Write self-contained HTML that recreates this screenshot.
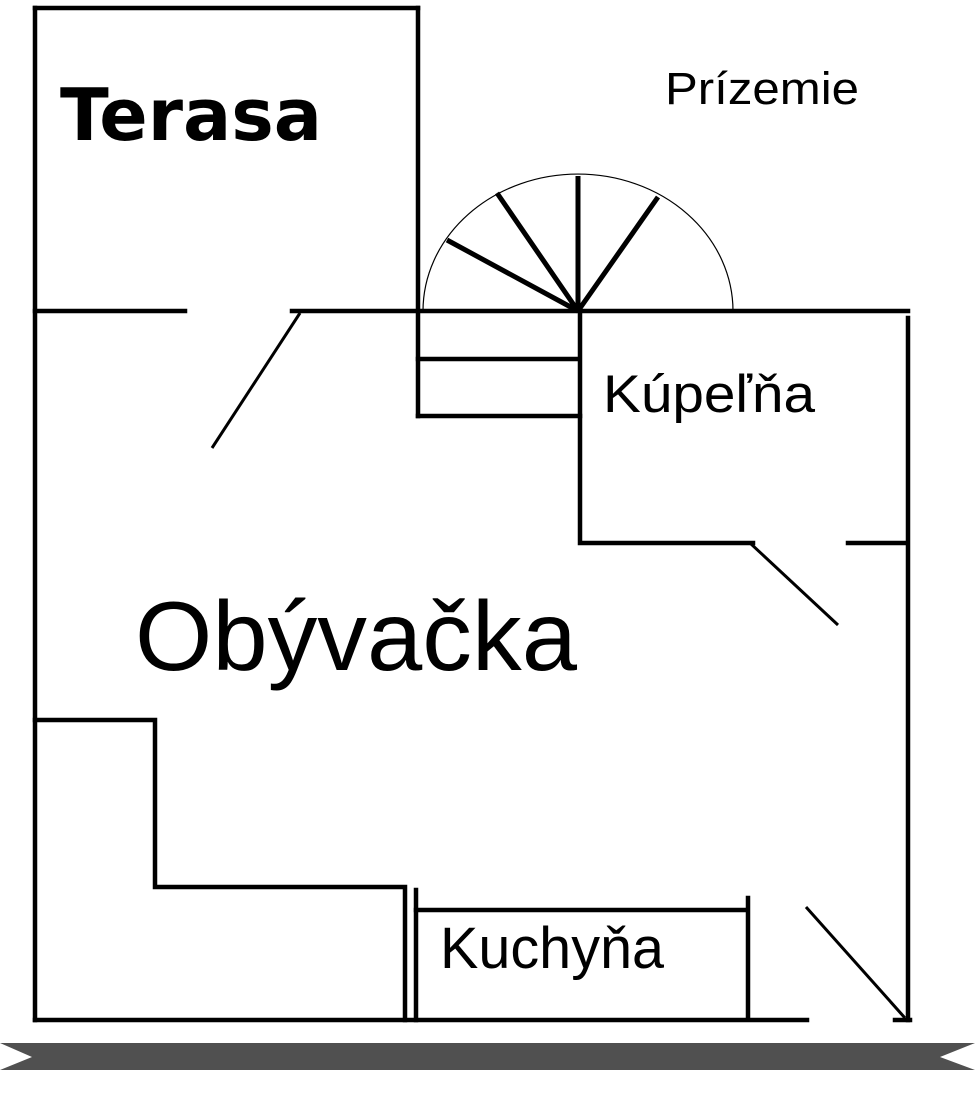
<!DOCTYPE html>
<html><head><meta charset="utf-8"><style>html,body{margin:0;padding:0;background:#fff}svg{display:block}</style></head>
<body>
<svg width="975" height="1112" viewBox="0 0 975 1112" xmlns="http://www.w3.org/2000/svg">
<g stroke="#000" stroke-width="4.5" fill="none" stroke-linecap="square">
<path d="M35 8 V1020"/>
<path d="M35 8 H418"/>
<path d="M418 8 V416"/>
<path d="M35 311 H185"/>
<path d="M292 311 H908"/>
<path d="M418 359 H578"/>
<path d="M418 416 H580"/>
<path d="M580 311 V543 H753"/>
<path d="M848 543 H905"/>
<path d="M908 318 V1020"/>
<path d="M35 720 H155 V887 H405 V1020"/>
<path d="M416 890 V1020"/>
<path d="M416 910 H745"/>
<path d="M748 898 V1018"/>
<path d="M35 1020 H807"/>
<path d="M895 1020 H910"/>
</g>
<g stroke="#000" stroke-width="3" fill="none">
<path d="M300 313 L212 448"/>
<path d="M750 543 L838 625"/>
<path d="M806 907 L905 1018"/>
<path d="M578 311 L447 240 M578 311 L497 193 M578 311 L578 176 M578 311 L658 197" stroke-width="5"/>
</g>
<path d="M423 311 A155 137 0 0 1 733 311" stroke="#000" stroke-width="1.2" fill="none"/>
<path d="M0 1043 L975 1043 L940 1057 L975 1070 L0 1070 L32 1057 Z" fill="#505050"/>
<g font-family="Liberation Sans, sans-serif" fill="#000">
<text x="60" y="140" font-family="DejaVu Sans, sans-serif" font-weight="bold" font-size="72" textLength="262" lengthAdjust="spacingAndGlyphs">Terasa</text>
<text x="665" y="104" font-size="45" textLength="194" lengthAdjust="spacingAndGlyphs">Prízemie</text>
<text x="603" y="412" font-size="53" textLength="212" lengthAdjust="spacingAndGlyphs">Kúpeľňa</text>
<text x="135" y="670" font-size="98" textLength="442" lengthAdjust="spacingAndGlyphs">Obývačka</text>
<text x="440" y="968" font-size="58" textLength="224" lengthAdjust="spacingAndGlyphs">Kuchyňa</text>
</g>
</svg>
</body></html>
